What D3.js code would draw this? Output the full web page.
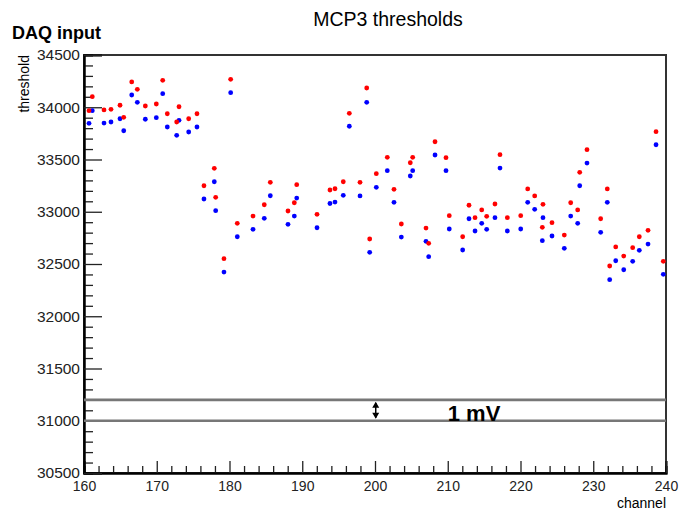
<!DOCTYPE html>
<html>
<head>
<meta charset="utf-8">
<script src="https://cdn.jsdelivr.net/npm/d3@7"></script>
<style>
  body { margin: 0; background: #fff; }
  svg { font-family: "Liberation Sans", Arial, Helvetica, sans-serif; }
</style>
</head>
<body>
<div id="chart"></div>
<script>
// channel positions and the two threshold sets
var chan = [160.69, 161.14, 162.75, 163.71, 164.95, 165.46, 166.56, 167.33, 168.43, 169.94,
            170.82, 171.45, 172.74, 173.06, 174.39, 175.53, 176.49, 177.91, 178.10, 179.24,
            180.16, 181.07, 183.23, 184.78, 185.61, 188.04, 188.91, 189.24, 192.03, 193.81,
            194.50, 195.64, 196.47, 197.94, 198.86, 199.27, 200.18, 201.69, 202.61, 203.62,
            204.85, 205.18, 207.01, 207.38, 208.25, 209.76, 210.21, 212.05, 212.92, 213.75,
            214.67, 215.35, 216.49, 217.18, 218.19, 220.03, 220.99, 221.95, 223.00, 223.09,
            224.33, 226.02, 226.90, 227.86, 228.14, 229.14, 231.02, 231.93, 232.26, 233.09,
            234.19, 235.42, 236.33, 237.53, 238.63, 239.63]
var thrRed = [33967, 34101, 33974, 33980, 34019, 33904, 34242, 34172, 34012, 34031,
              34258, 33938, 33859, 34005, 33890, 33938, 33249, 33416, 33138, 32551,
              34267, 32889, 32959, 33067, 33282, 33007, 33086, 33259, 32975, 33208,
              33220, 33287, 33942, 33282, 34184, 32739, 33364, 33521, 33215, 32883,
              33469, 33521, 32844, 32698, 33670, 33517, 32962, 32761, 33062, 32943,
              33017, 32956, 33074, 33546, 32943, 32962, 33218, 33151, 32851, 33071,
              32895, 32777, 33086, 33017, 33377, 33594, 32933, 33218, 32481, 32663,
              32576, 32656, 32761, 32822, 33766, 32526]
var thrBlue = [33846, 33967, 33849, 33859, 33890, 33775, 34117, 34047, 33885, 33900,
               34130, 33811, 33731, 33875, 33763, 33811, 33122, 33287, 33010, 32423,
               34139, 32761, 32832, 32937, 33153, 32880, 32959, 33131, 32847, 33079,
               33093, 33157, 33818, 33151, 34047, 32612, 33234, 33393, 33090, 32758,
               33342, 33393, 32717, 32570, 33543, 33393, 32835, 32634, 32933, 32816,
               32889, 32832, 32943, 33418, 32816, 32835, 33090, 33023, 32723, 32943,
               32768, 32650, 32959, 32889, 33249, 33466, 32803, 33090, 32350, 32531,
               32445, 32526, 32631, 32691, 33641, 32401]

var xTicks = [160, 170, 180, 190, 200, 210, 220, 230, 240]
var yTicks = [30500, 31000, 31500, 32000, 32500, 33000, 33500, 34000, 34500]
var mvLevels = [31000, 31200]   // the "1 mV" band
var mvChannel = 200.1

var W = 680, H = 511
var margin = {top: 55, right: 14, bottom: 38, left: 84}
var width = W - margin.left - margin.right,
    height = H - margin.top - margin.bottom

var svg = d3.select("#chart").append("svg")
    .attr("width", W)
    .attr("height", H)

var x = d3.scaleLinear().domain([160, 240]).range([0, width])
var y = d3.scaleLinear().domain([30500, 34500]).range([height, 0])

var g = svg.append("g")
    .attr("transform", "translate(" + margin.left + "," + margin.top + ")")

// frame
g.append("rect")
    .attr("width", width).attr("height", height)
    .attr("fill", "none").attr("stroke", "#333").attr("stroke-width", 2)

// minor ticks (no labels)
var xMinor = d3.range(160, 241, 2).filter(v => v % 10 != 0)
var yMinor = d3.range(30500, 34501, 100).filter(v => v % 500 != 0)

g.append("g").attr("class", "minor")
    .attr("transform", "translate(0," + height + ")")
    .call(d3.axisBottom(x).tickValues(xMinor).tickSize(-7).tickFormat(""))
g.append("g").attr("class", "minor")
    .call(d3.axisLeft(y).tickValues(yMinor).tickSize(-9).tickFormat(""))

// major ticks with labels
var xAxis = g.append("g")
    .attr("transform", "translate(0," + height + ")")
    .call(d3.axisBottom(x).tickValues(xTicks).tickSize(-12).tickFormat(d3.format("d")))
xAxis.selectAll("text").attr("font-size", 14).attr("fill", "#222").attr("y", 8).attr("dy", "0.71em")

var yAxis = g.append("g")
    .call(d3.axisLeft(y).tickValues(yTicks).tickSize(-18).tickFormat(d3.format("d")))
yAxis.selectAll("text").attr("font-size", 15.5).attr("fill", "#222").attr("x", -4)

g.selectAll(".domain").attr("stroke", "#000").attr("stroke-width", 2)
g.selectAll(".tick line").attr("stroke", "#222").attr("stroke-width", 1.3)

// 1 mV band lines
g.selectAll(".mv")
    .data(mvLevels)
  .enter().append("line")
    .attr("class", "mv")
    .attr("x1", 0).attr("x2", width)
    .attr("y1", d => y(d)).attr("y2", d => y(d))
    .attr("stroke", "#777").attr("stroke-width", 2.6)

// double arrow between them
var ax = x(mvChannel), ayTop = y(mvLevels[1]), ayBot = y(mvLevels[0])
g.append("line")
    .attr("x1", ax).attr("x2", ax)
    .attr("y1", ayTop + 3).attr("y2", ayBot - 3)
    .attr("stroke", "#000").attr("stroke-width", 1.5)
g.append("path")
    .attr("d", "M" + ax + "," + (ayTop + 2) + "l-3.5,6h7z M" + ax + "," + (ayBot - 2) + "l-3.5,-6h7z")
    .attr("fill", "#000")

g.append("text")
    .attr("x", x(mvChannel) + 72).attr("y", ayBot)
    .attr("font-size", 22).attr("font-weight", "bold")
    .text("1 mV")

// points: red first set, blue second set
var pts = chan.map((c, i) => ({c: c, r: thrRed[i], b: thrBlue[i]}))
g.selectAll(".ptb")
    .data(pts)
  .enter().append("circle")
    .attr("class", "ptb")
    .attr("cx", d => x(d.c)).attr("cy", d => y(d.b))
    .attr("r", 2.4).attr("fill", "#0000ff")
g.selectAll(".ptr")
    .data(pts)
  .enter().append("circle")
    .attr("class", "ptr")
    .attr("cx", d => x(d.c)).attr("cy", d => y(d.r))
    .attr("r", 2.4).attr("fill", "#ff0000")

// titles
svg.append("text")
    .attr("x", 388).attr("y", 26)
    .attr("text-anchor", "middle").attr("font-size", 19.5)
    .text("MCP3 thresholds")
svg.append("text")
    .attr("x", 12).attr("y", 39)
    .attr("font-size", 18).attr("font-weight", "bold")
    .text("DAQ input")
svg.append("text")
    .attr("transform", "translate(29," + margin.top + ") rotate(-90)")
    .attr("text-anchor", "end").attr("font-size", 14)
    .text("threshold")
svg.append("text")
    .attr("x", margin.left + width).attr("y", 508)
    .attr("text-anchor", "end").attr("font-size", 14)
    .text("channel")
</script>
</body>
</html>
